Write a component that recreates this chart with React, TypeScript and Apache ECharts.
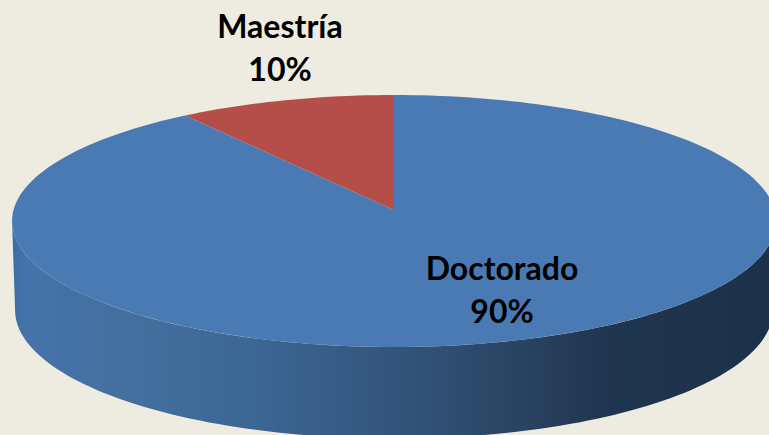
import React, { useEffect, useRef } from "react";
import * as echarts from "echarts";

const categories = ["Doctorado", "Maestría"];
const values = [90, 10];
const sliceColors = ["#4a7ab4", "#b54e48"];
const wallStops = [
  { offset: 0, color: "#3f6da3" },
  { offset: 0.02, color: "#4673aa" },
  { offset: 0.15, color: "#43709f" },
  { offset: 0.32, color: "#3c6694" },
  { offset: 0.5, color: "#33557c" },
  { offset: 0.65, color: "#2a4564" },
  { offset: 0.78, color: "#20354f" },
  { offset: 1, color: "#1d3049" },
];

// Perspective projection of the pie's circular top onto the page.
const CX = 394;
const CY = 210;
const RX = 380.5;
const RY = 125;
const K = 0.0873;
const WALL_DY = 89;
const WALL_SX = 0.992;
const WALL_SY = 1.02;

function project(deg: number, sx = 1, sy = 1, dy = 0): number[] {
  const t = (deg * Math.PI) / 180;
  const x = Math.sin(t);
  const y = -Math.cos(t); // y > 0 points toward the viewer
  const w = 1 - K * y;
  return [CX + (RX * sx * x) / w, CY + dy + (RY * sy * y) / w];
}

function arc(from: number, to: number, sx = 1, sy = 1, dy = 0): number[][] {
  const n = Math.max(2, Math.ceil(Math.abs(to - from) / 1.5));
  const pts: number[][] = [];
  for (let i = 0; i <= n; i++) pts.push(project(from + ((to - from) * i) / n, sx, sy, dy));
  return pts;
}

const total = values.reduce((a, b) => a + b, 0);
const labelSpots = [
  { x: 502, y: 289 },
  { x: 280, y: 47 },
];

export default function App() {
  const ref = useRef<HTMLDivElement>(null);
  useEffect(() => {
    document.body.style.margin = "0";
    const chart = echarts.init(ref.current!, null, { renderer: "svg" });
    const silhouette = (Math.acos(-K) * 180) / Math.PI;
    chart.setOption({
      animation: false,
      backgroundColor: "#eeebe0",
      series: [
        {
          type: "custom",
          coordinateSystem: "none",
          silent: true,
          clip: false,
          data: values.map((v, i) => ({ value: [v], name: categories[i] })),
          renderItem: (params: any, api: any) => {
            const i = params.dataIndex;
            const before = values.slice(0, i).reduce((a, b) => a + b, 0);
            const start = (before / total) * 360;
            const end = ((before + api.value(0)) / total) * 360;
            const children: any[] = [];
            if (i === 0) {
              children.push({
                type: "polygon",
                shape: {
                  points: [
                    ...arc(silhouette, 360 - silhouette),
                    ...arc(360 - silhouette, silhouette, WALL_SX, WALL_SY, WALL_DY),
                  ],
                },
                style: {
                  fill: new echarts.graphic.LinearGradient(0, 0, 1, 0, wallStops),
                },
              });
            }
            children.push({
              type: "polygon",
              shape: { points: [[CX, CY], ...arc(start, end)] },
              style: { fill: sliceColors[i] },
            });
            children.push({
              type: "text",
              z2: 10,
              x: labelSpots[i].x,
              y: labelSpots[i].y,
              style: {
                text: `${categories[i]}\n${api.value(0)}%`,
                fill: "#000000",
                font: "bold 32px Lato",
                lineHeight: 43,
                align: "center",
                verticalAlign: "middle",
              },
            });
            return { type: "group", children };
          },
        },
      ],
    });
    return () => chart.dispose();
  }, []);
  return <div ref={ref} style={{ width: 769, height: 435 }} />;
}
